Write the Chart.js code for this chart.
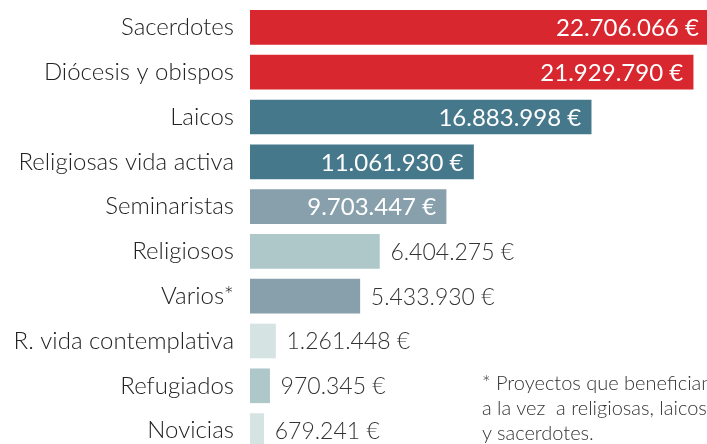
<!DOCTYPE html>
<html lang="es">
<head>
<meta charset="utf-8">
<script src="https://cdn.jsdelivr.net/npm/chart.js@4.4.0/dist/chart.umd.min.js"></script>
<style>
  html, body { margin: 0; padding: 0; background: #fff; overflow: hidden; }
  #wrap { position: relative; width: 707px; height: 444px; overflow: hidden; }
  #chart { position: absolute; left: 0; top: 0; }
  .note {
    position: absolute; left: 482px; top: 370px;
    font-family: Lato, sans-serif; font-weight: 300; font-size: 20px;
    line-height: 25px; color: #333; white-space: nowrap;
  }
</style>
</head>
<body>
<div id="wrap">
  <canvas id="chart" width="740" height="453"></canvas>
  <div class="note">* Proyectos que benefician<br>a la vez&nbsp; a religiosas, laicos<br>y sacerdotes.</div>
</div>
<script>
// Data
const categories = [
  'Sacerdotes', 'Diócesis y obispos', 'Laicos', 'Religiosas vida activa',
  'Seminaristas', 'Religiosos', 'Varios*', 'R. vida contemplativa',
  'Refugiados', 'Novicias'
];
const amounts = [22706066, 21929790, 16883998, 11061930, 9703447, 6404275, 5433930, 1261448, 970345, 679241];
const barColors = [
  '#d9272f', '#d9272f', '#46788c', '#46788c', '#87a0ac',
  '#aec8ca', '#87a0ac', '#d5e3e3', '#aec8ca', '#d5e3e3'
];
// labels go inside the bar above this amount
const insideThreshold = 9000000;

function euros(v) {
  return String(v).replace(/\B(?=(\d{3})+(?!\d))/g, '.') + ' €';
}

// Draw the value next to / inside each bar
const valueLabels = {
  id: 'valueLabels',
  afterDatasetsDraw(chart) {
    const ctx = chart.ctx;
    const meta = chart.getDatasetMeta(0);
    ctx.save();
    ctx.textBaseline = 'middle';
    meta.data.forEach((bar, i) => {
      const v = amounts[i];
      const text = euros(v);
      if (v > insideThreshold) {
        ctx.font = '400 24px Lato, sans-serif';
        ctx.fillStyle = '#ffffff';
        ctx.textAlign = 'right';
        ctx.fillText(text, bar.x - 10, bar.y + 1);
      } else {
        ctx.font = '300 23px Lato, sans-serif';
        ctx.fillStyle = '#333333';
        ctx.textAlign = 'left';
        ctx.fillText(text, bar.x + 11, bar.y + 1);
      }
    });
    ctx.restore();
  }
};

const chart = new Chart(document.getElementById('chart'), {
  type: 'bar',
  data: {
    labels: categories,
    datasets: [{
      data: amounts,
      backgroundColor: barColors,
      borderWidth: 0,
      barThickness: 34
    }]
  },
  options: {
    indexAxis: 'y',
    responsive: false,
    devicePixelRatio: 1,
    animation: false,
    layout: { padding: { top: 5, right: 0, bottom: 0, left: 0 } },
    plugins: {
      legend: { display: false },
      tooltip: { enabled: false }
    },
    scales: {
      x: {
        display: false,
        min: 0,
        max: 24250000
      },
      y: {
        afterFit(scale) {
          // fixed label column, no extra padding above/below the bars
          scale.width = 250;
          scale.paddingTop = 0;
          scale.paddingBottom = 0;
        },
        grid: { display: false, drawTicks: false },
        border: { display: false },
        ticks: {
          padding: 16,
          color: '#222222',
          font: { family: 'Lato, sans-serif', size: 24, weight: 300 }
        }
      }
    }
  },
  plugins: [valueLabels]
});
</script>
</body>
</html>
